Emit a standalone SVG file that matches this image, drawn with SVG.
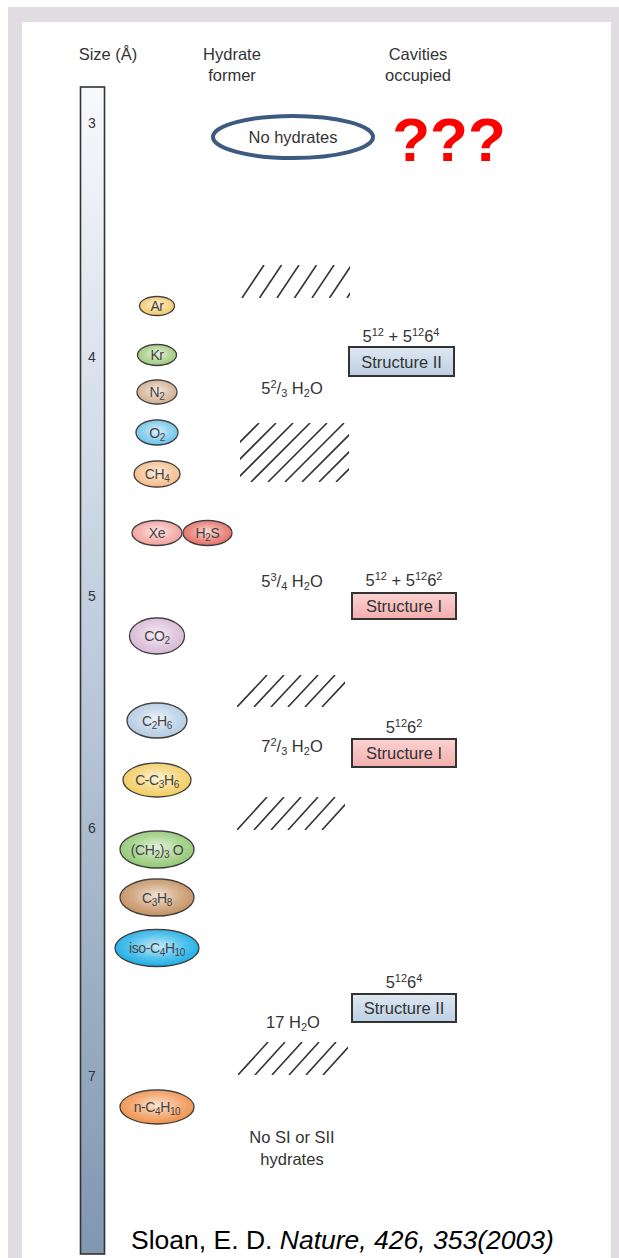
<svg xmlns="http://www.w3.org/2000/svg" width="619" height="1258" viewBox="0 0 619 1258">
<style>
  text { font-family: "Liberation Sans", Arial, sans-serif; fill: #333; }
  .hdr { font-size: 16.5px; text-anchor: middle; }
  .tick { font-size: 14px; text-anchor: middle; }
  .gas { font-size: 14px; text-anchor: middle; fill: #444; letter-spacing: -0.4px; }
  .lbl { font-size: 16.5px; text-anchor: middle; }
  .struct { font-size: 16.5px; text-anchor: middle; }
  .node { stroke: #3a3a3a; stroke-width: 1.3; }
  .hatch { stroke: #333; stroke-width: 1.6; fill: none; }
  .box { stroke: #333; stroke-width: 2; }
</style>
<defs>
  <linearGradient id="bar" x1="0" y1="0" x2="0" y2="1">
    <stop offset="0" stop-color="#f8f9fc"/>
    <stop offset="0.5" stop-color="#bccadb"/>
    <stop offset="1" stop-color="#8197b0"/>
  </linearGradient>
  <radialGradient id="shine" cx="0.5" cy="0.45" r="0.55">
    <stop offset="0" stop-color="#fff" stop-opacity="0.75"/>
    <stop offset="0.6" stop-color="#fff" stop-opacity="0.25"/>
    <stop offset="1" stop-color="#fff" stop-opacity="0"/>
  </radialGradient>
  <linearGradient id="blueBox" x1="0" y1="0" x2="0" y2="1">
    <stop offset="0" stop-color="#dfe8f2"/>
    <stop offset="1" stop-color="#bccfe3"/>
  </linearGradient>
  <linearGradient id="pinkBox" x1="0" y1="0" x2="0" y2="1">
    <stop offset="0" stop-color="#fbd3d2"/>
    <stop offset="1" stop-color="#f3aeae"/>
  </linearGradient>
  <clipPath id="h1"><rect x="240" y="265" width="110" height="33"/></clipPath>
  <clipPath id="h2"><rect x="240" y="423" width="109" height="59"/></clipPath>
  <clipPath id="h3"><rect x="237" y="675" width="108" height="32"/></clipPath>
  <clipPath id="h4"><rect x="237" y="797" width="108" height="33"/></clipPath>
  <clipPath id="h5"><rect x="238" y="1042" width="110" height="33"/></clipPath>
</defs>

<!-- frame -->
<rect x="0" y="0" width="619" height="1258" fill="#ffffff"/>
<rect x="8" y="7" width="611" height="1251" fill="#e0dce2"/>
<rect x="22" y="22" width="589" height="1236" fill="#ffffff"/>

<!-- headers -->
<g id="headers">
  <text class="hdr" x="108" y="60">Size (Å)</text>
  <text class="hdr" x="232" y="60">Hydrate</text>
  <text class="hdr" x="232" y="81">former</text>
  <text class="hdr" x="418" y="60">Cavities</text>
  <text class="hdr" x="418" y="81">occupied</text>
</g>

<!-- size bar -->
<g id="size-bar">
  <rect x="80.5" y="87" width="24" height="1167" fill="url(#bar)" stroke="#333" stroke-width="1.6"/>
  <text class="tick" x="92" y="128">3</text>
  <text class="tick" x="92" y="362">4</text>
  <text class="tick" x="92" y="601">5</text>
  <text class="tick" x="92" y="833">6</text>
  <text class="tick" x="92" y="1081">7</text>
</g>

<!-- no hydrates -->
<g id="no-hydrates">
  <ellipse cx="293" cy="137" rx="80" ry="21" fill="none" stroke="#3d5a80" stroke-width="4"/>
  <text class="lbl" x="293" y="143">No hydrates</text>
</g>
<g id="question">
  <text x="449" y="161" text-anchor="middle" style="font-size:62px;font-weight:bold;fill:#ff0000">???</text>
</g>

<!-- hatches -->
<g id="hatches">
  <path class="hatch" clip-path="url(#h1)" d="M242,298 l22,-33 M259.5,298 l22,-33 M277,298 l22,-33 M294.5,298 l22,-33 M312,298 l22,-33 M329.5,298 l22,-33 M347,298 l22,-33"/>
  <path class="hatch" clip-path="url(#h2)" d="M200,482 l59,-59 M217,482 l59,-59 M234,482 l59,-59 M251,482 l59,-59 M268,482 l59,-59 M285,482 l59,-59 M302,482 l59,-59 M319,482 l59,-59 M336,482 l59,-59"/>
  <path class="hatch" clip-path="url(#h3)" d="M237,707 l30,-32 M254,707 l30,-32 M271,707 l30,-32 M288,707 l30,-32 M305,707 l30,-32 M322,707 l30,-32"/>
  <path class="hatch" clip-path="url(#h4)" d="M237,830 l30,-33 M254,830 l30,-33 M271,830 l30,-33 M288,830 l30,-33 M305,830 l30,-33 M322,830 l30,-33"/>
  <path class="hatch" clip-path="url(#h5)" d="M238,1075 l30,-33 M255,1075 l30,-33 M272,1075 l30,-33 M289,1075 l30,-33 M306,1075 l30,-33 M323,1075 l30,-33"/>
</g>

<!-- gas species -->
<g id="Ar"><ellipse class="node" cx="157" cy="306" rx="17.5" ry="9.5" fill="#f2c96a"/><ellipse cx="157" cy="306" rx="17.5" ry="9.5" fill="url(#shine)"/><text class="gas" x="157" y="311">Ar</text></g>
<g id="Kr"><ellipse class="node" cx="157" cy="355" rx="19.5" ry="10.5" fill="#9ec97a"/><ellipse cx="157" cy="355" rx="19.5" ry="10.5" fill="url(#shine)"/><text class="gas" x="157" y="360">Kr</text></g>
<g id="N2"><ellipse class="node" cx="157" cy="392" rx="20" ry="12" fill="#d0ae90"/><ellipse cx="157" cy="392" rx="20" ry="12" fill="url(#shine)"/><text class="gas" x="157" y="397">N<tspan font-size="10" dy="3">2</tspan></text></g>
<g id="O2"><ellipse class="node" cx="157" cy="432.5" rx="21" ry="12.5" fill="#6cc3ea"/><ellipse cx="157" cy="432.5" rx="21" ry="12.5" fill="url(#shine)"/><text class="gas" x="157" y="437.5">O<tspan font-size="10" dy="3">2</tspan></text></g>
<g id="CH4"><ellipse class="node" cx="157" cy="474" rx="23" ry="13" fill="#f5bb88"/><ellipse cx="157" cy="474" rx="23" ry="13" fill="url(#shine)"/><text class="gas" x="157" y="479">CH<tspan font-size="10" dy="3">4</tspan></text></g>
<g id="Xe"><ellipse class="node" cx="157" cy="533" rx="25" ry="12.5" fill="#f2a09c"/><ellipse cx="157" cy="533" rx="25" ry="12.5" fill="url(#shine)"/><text class="gas" x="157" y="538">Xe</text></g>
<g id="H2S"><ellipse class="node" cx="207.5" cy="533" rx="24.5" ry="12.5" fill="#e56e64"/><ellipse cx="207.5" cy="533" rx="24.5" ry="12.5" fill="url(#shine)"/><text class="gas" x="207.5" y="538">H<tspan font-size="10" dy="3">2</tspan><tspan dy="-3">S</tspan></text></g>
<g id="CO2"><ellipse class="node" cx="157" cy="636" rx="27.5" ry="18" fill="#d8b8d5"/><ellipse cx="157" cy="636" rx="27.5" ry="18" fill="url(#shine)"/><text class="gas" x="157" y="641">CO<tspan font-size="10" dy="3">2</tspan></text></g>
<g id="C2H6"><ellipse class="node" cx="157" cy="720.5" rx="30" ry="17.5" fill="#b2cbe3"/><ellipse cx="157" cy="720.5" rx="30" ry="17.5" fill="url(#shine)"/><text class="gas" x="157" y="725.5">C<tspan font-size="10" dy="3">2</tspan><tspan dy="-3">H</tspan><tspan font-size="10" dy="3">6</tspan></text></g>
<g id="C-C3H6"><ellipse class="node" cx="157" cy="780" rx="34" ry="17" fill="#f3cc5e"/><ellipse cx="157" cy="780" rx="34" ry="17" fill="url(#shine)"/><text class="gas" x="157" y="785">C-C<tspan font-size="10" dy="3">3</tspan><tspan dy="-3">H</tspan><tspan font-size="10" dy="3">6</tspan></text></g>
<g id="CH2_3O"><ellipse class="node" cx="157" cy="849.5" rx="37" ry="18.5" fill="#92c873"/><ellipse cx="157" cy="849.5" rx="37" ry="18.5" fill="url(#shine)"/><text class="gas" x="157" y="854.5">(CH<tspan font-size="10" dy="3">2</tspan><tspan dy="-3">)</tspan><tspan font-size="10" dy="3">3</tspan><tspan dy="-3"> O</tspan></text></g>
<g id="C3H8"><ellipse class="node" cx="157" cy="897.5" rx="37" ry="18.5" fill="#c4905f"/><ellipse cx="157" cy="897.5" rx="37" ry="18.5" fill="url(#shine)"/><text class="gas" x="157" y="902.5">C<tspan font-size="10" dy="3">3</tspan><tspan dy="-3">H</tspan><tspan font-size="10" dy="3">8</tspan></text></g>
<g id="iso-C4H10"><ellipse class="node" cx="157" cy="948" rx="42" ry="18.5" fill="#1aaee6"/><ellipse cx="157" cy="948" rx="42" ry="18.5" fill="url(#shine)"/><text class="gas" x="157" y="953">iso-C<tspan font-size="10" dy="3">4</tspan><tspan dy="-3">H</tspan><tspan font-size="10" dy="3">10</tspan></text></g>
<g id="n-C4H10"><ellipse class="node" cx="157" cy="1107" rx="37" ry="17" fill="#f0914a"/><ellipse cx="157" cy="1107" rx="37" ry="17" fill="url(#shine)"/><text class="gas" x="157" y="1112">n-C<tspan font-size="10" dy="3">4</tspan><tspan dy="-3">H</tspan><tspan font-size="10" dy="3">10</tspan></text></g>

<!-- water ratios -->
<g id="ratios">
  <text class="lbl" x="292" y="394">5<tspan font-size="11" dy="-6">2</tspan><tspan dy="6">/</tspan><tspan font-size="11" dy="3">3</tspan><tspan dy="-3"> H</tspan><tspan font-size="11" dy="3">2</tspan><tspan dy="-3">O</tspan></text>
  <text class="lbl" x="292" y="587">5<tspan font-size="11" dy="-6">3</tspan><tspan dy="6">/</tspan><tspan font-size="11" dy="3">4</tspan><tspan dy="-3"> H</tspan><tspan font-size="11" dy="3">2</tspan><tspan dy="-3">O</tspan></text>
  <text class="lbl" x="292" y="752">7<tspan font-size="11" dy="-6">2</tspan><tspan dy="6">/</tspan><tspan font-size="11" dy="3">3</tspan><tspan dy="-3"> H</tspan><tspan font-size="11" dy="3">2</tspan><tspan dy="-3">O</tspan></text>
  <text class="lbl" x="293" y="1028">17 H<tspan font-size="11" dy="3">2</tspan><tspan dy="-3">O</tspan></text>
  <text class="lbl" x="292" y="1143">No SI or SII</text>
  <text class="lbl" x="292" y="1165">hydrates</text>
</g>

<!-- structures -->
<g id="structII-a">
  <text class="lbl" x="401" y="342">5<tspan font-size="11" dy="-6">12</tspan><tspan dy="6"> + 5</tspan><tspan font-size="11" dy="-6">12</tspan><tspan dy="6">6</tspan><tspan font-size="11" dy="-6">4</tspan></text>
  <rect class="box" x="349" y="347" width="105" height="29" fill="url(#blueBox)"/>
  <text class="struct" x="401.5" y="367.5">Structure II</text>
</g>
<g id="structI-a">
  <text class="lbl" x="404" y="586">5<tspan font-size="11" dy="-6">12</tspan><tspan dy="6"> + 5</tspan><tspan font-size="11" dy="-6">12</tspan><tspan dy="6">6</tspan><tspan font-size="11" dy="-6">2</tspan></text>
  <rect class="box" x="352" y="593" width="104" height="26" fill="url(#pinkBox)"/>
  <text class="struct" x="404" y="612">Structure I</text>
</g>
<g id="structI-b">
  <text class="lbl" x="404" y="733">5<tspan font-size="11" dy="-6">12</tspan><tspan dy="6">6</tspan><tspan font-size="11" dy="-6">2</tspan></text>
  <rect class="box" x="352" y="739" width="104" height="28" fill="url(#pinkBox)"/>
  <text class="struct" x="404" y="759">Structure I</text>
</g>
<g id="structII-b">
  <text class="lbl" x="404" y="988">5<tspan font-size="11" dy="-6">12</tspan><tspan dy="6">6</tspan><tspan font-size="11" dy="-6">4</tspan></text>
  <rect class="box" x="352" y="994" width="104" height="28" fill="url(#blueBox)"/>
  <text class="struct" x="404" y="1014">Structure II</text>
</g>

<!-- citation -->
<g id="citation">
  <text x="131" y="1249" style="font-size:26.5px;fill:#000">Sloan, E. D. <tspan font-style="italic">Nature, 426, 353(2003)</tspan></text>
</g>
</svg>
